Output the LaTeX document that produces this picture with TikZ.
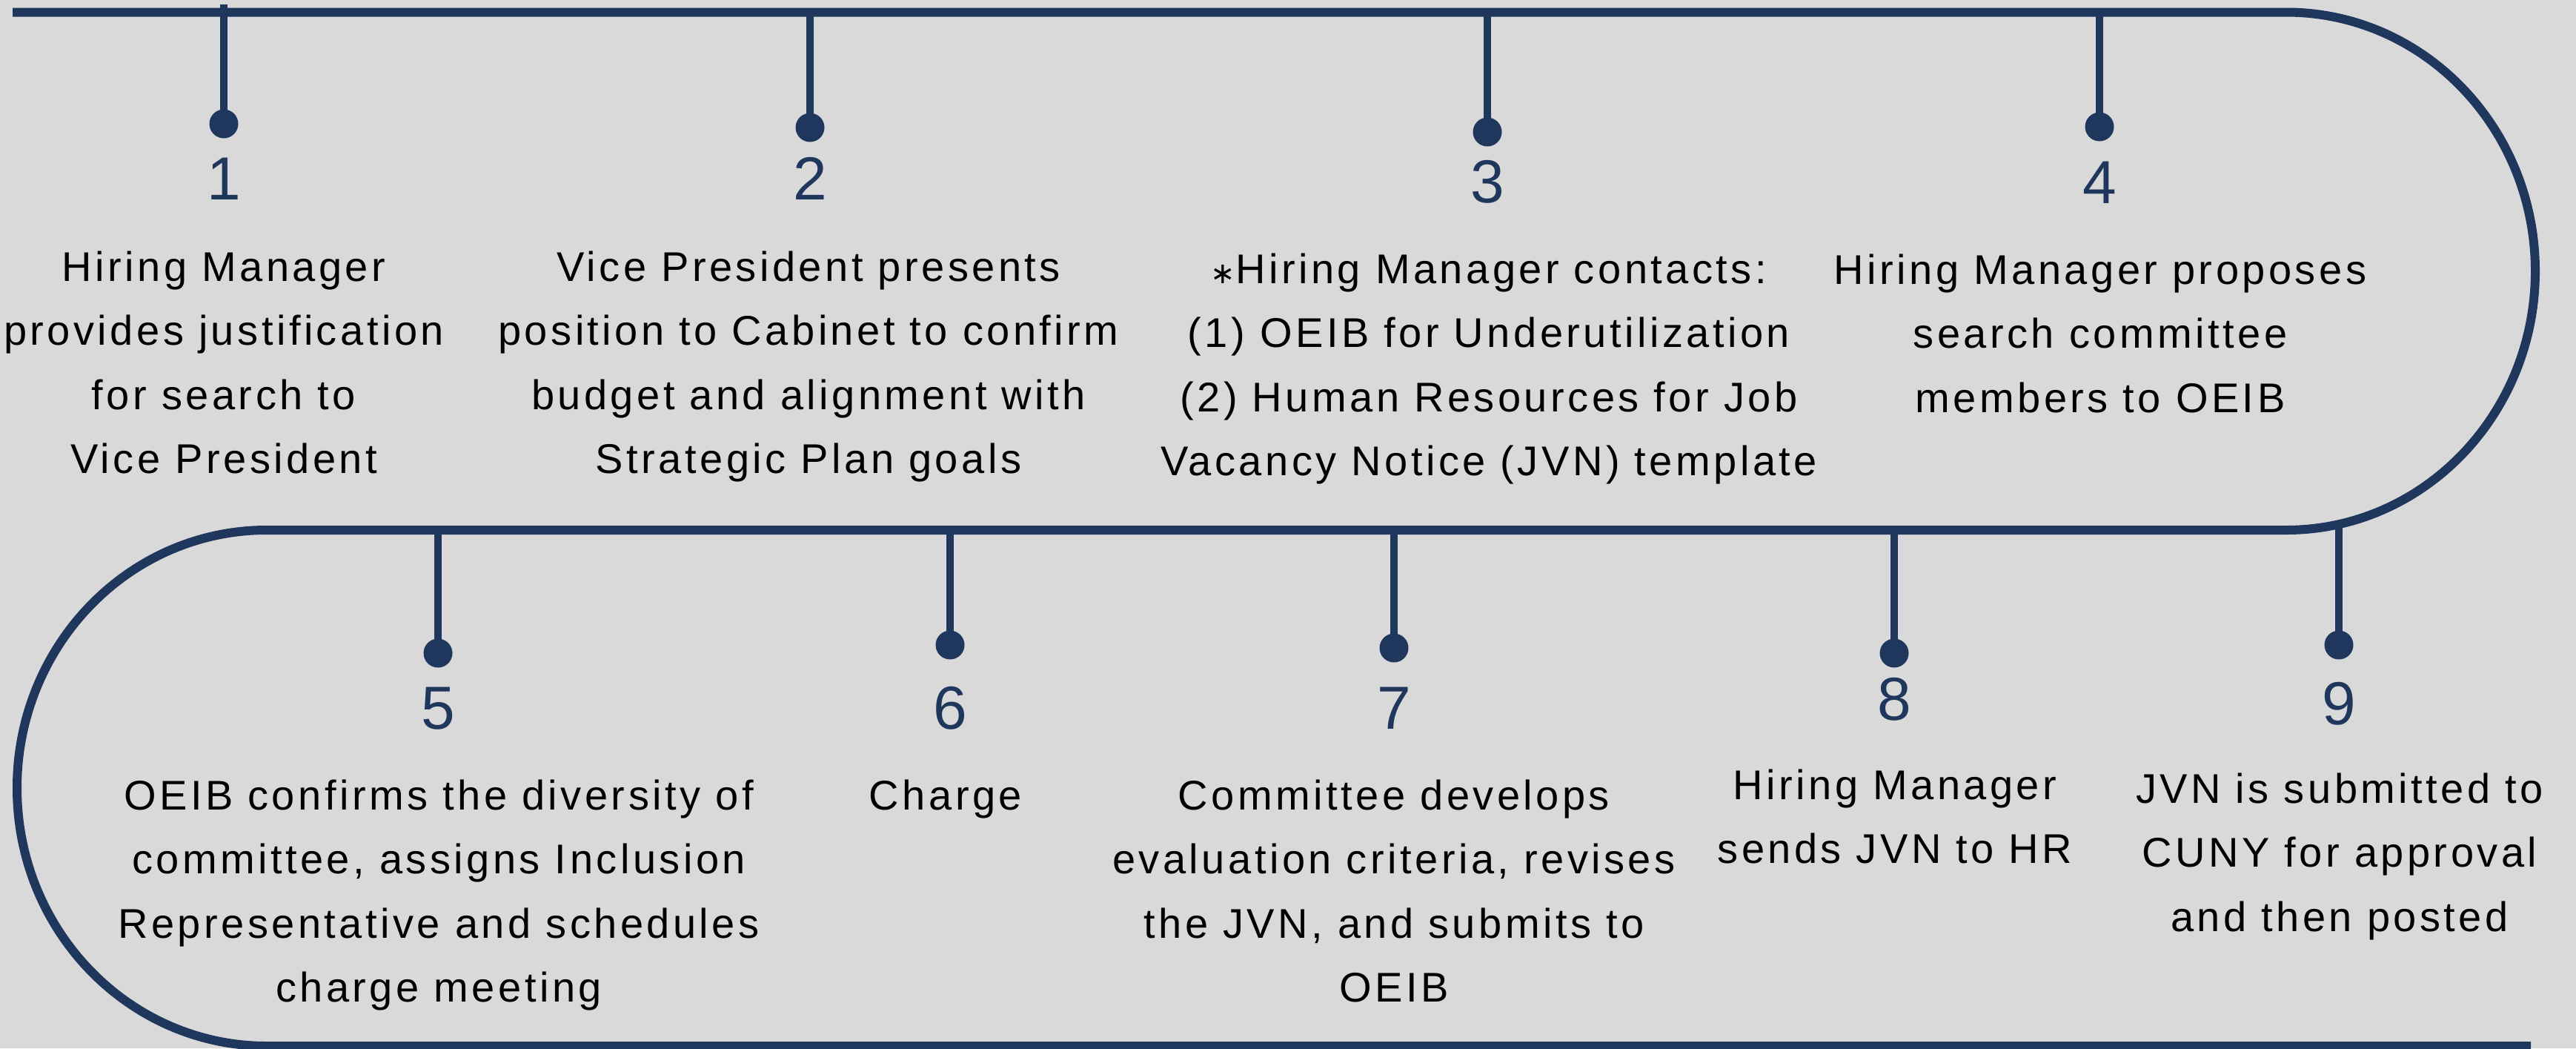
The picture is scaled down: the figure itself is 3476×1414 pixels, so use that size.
\documentclass[tikz,border=0pt]{standalone}
\usepackage{fontspec}
\setmainfont{Liberation Sans}[LetterSpace=8]
\newfontfamily\numfont{Liberation Sans}
\newfontfamily\djv{DejaVu Sans}
\definecolor{navy}{RGB}{31,54,93}
\definecolor{bg}{RGB}{217,217,217}
\newcommand{\fl}{\rule{0pt}{44pt}}
\tikzset{
  mainline/.style={draw=navy, line width=12pt},
  stemline/.style={draw=navy, line width=10.5pt},
  dotnode/.style={circle, fill=navy, minimum size=39pt, inner sep=0pt},
  numnode/.style={anchor=base, inner sep=0pt, text=navy, font=\numfont\fontsize{82}{82}\selectfont},
  txtnode/.style={anchor=north, inner sep=0pt, align=center, text=black, font=\fontsize{56}{86.5}\selectfont}
}
\begin{document}
\begin{tikzpicture}[x=1pt, y=-1pt]
\fill[bg] (0,0) rectangle (3476,1414);
\useasboundingbox (0,0) rectangle (3476,1414);

% main serpentine line
\coordinate (s0) at (17,16.5);
\coordinate (s1) at (3085,16.5);
\coordinate (s2) at (360,715);
\coordinate (s3) at (3415,1411);
\draw[mainline] (s0) -- (s1) arc[start angle=90, end angle=-90, x radius=336pt, y radius=349.25pt]
  -- (s2) arc[start angle=90, end angle=270, x radius=337pt, y radius=348pt] -- (s3);

% stem tops
\coordinate (t1) at (302,6);
\coordinate (t2) at (1093,16.5);
\coordinate (t3) at (2007,16.5);
\coordinate (t4) at (2833,16.5);
\coordinate (t5) at (591,715);
\coordinate (t6) at (1282,715);
\coordinate (t7) at (1881,715);
\coordinate (t8) at (2556,715);
\coordinate (t9) at (3156,709);

% dots
\node[dotnode] (d1) at (302,167) {};
\node[dotnode] (d2) at (1093,172) {};
\node[dotnode] (d3) at (2007,178) {};
\node[dotnode] (d4) at (2833,171) {};
\node[dotnode] (d5) at (591,881) {};
\node[dotnode] (d6) at (1282,870) {};
\node[dotnode] (d7) at (1881,874) {};
\node[dotnode] (d8) at (2556,881) {};
\node[dotnode] (d9) at (3156,870) {};

\foreach \i in {1,...,9}{\draw[stemline] (t\i) -- (d\i.center);}

% numbers
\node[numnode] (n1) at (302,269) {1};
\node[numnode] (n2) at (1093,269) {2};
\node[numnode] (n3) at (2007,273) {3};
\node[numnode] (n4) at (2833,274) {4};
\node[numnode] (n5) at (591,983) {5};
\node[numnode] (n6) at (1282,983) {6};
\node[numnode] (n7) at (1881,983) {7};
\node[numnode] (n8) at (2556,971) {8};
\node[numnode] (n9) at (3156,977) {9};

% texts
\node[txtnode] (x1) at (302,335) {\fl Hiring Manager\\provides justification\\for search to\\Vice President};
\node[txtnode] (x2) at (1091,335) {\fl Vice President presents\\position to Cabinet to confirm\\budget and alignment with\\Strategic Plan goals};
\node[txtnode] (x3) at (2009,338) {\fl{\djv\fontsize{40}{40}\selectfont ∗}Hiring Manager contacts:\\(1) OEIB for Underutilization\\(2) Human Resources for Job\\Vacancy Notice (JVN) template};
\node[txtnode] (x4) at (2834,339) {\fl Hiring Manager proposes\\search committee\\members to OEIB};
\node[txtnode] (x5) at (592,1048) {\fl OEIB confirms the diversity of\\committee, assigns Inclusion\\Representative and schedules\\charge meeting};
\node[txtnode] (x6) at (1276,1048) {\fl Charge};
\node[txtnode] (x7) at (1881,1048) {\fl Committee develops\\evaluation criteria, revises\\the JVN, and submits to\\OEIB};
\node[txtnode] (x8) at (2557,1034) {\fl Hiring Manager\\sends JVN to HR};
\node[txtnode] (x9) at (3157,1039) {\fl JVN is submitted to\\CUNY for approval\\and then posted};
\end{tikzpicture}
\end{document}
